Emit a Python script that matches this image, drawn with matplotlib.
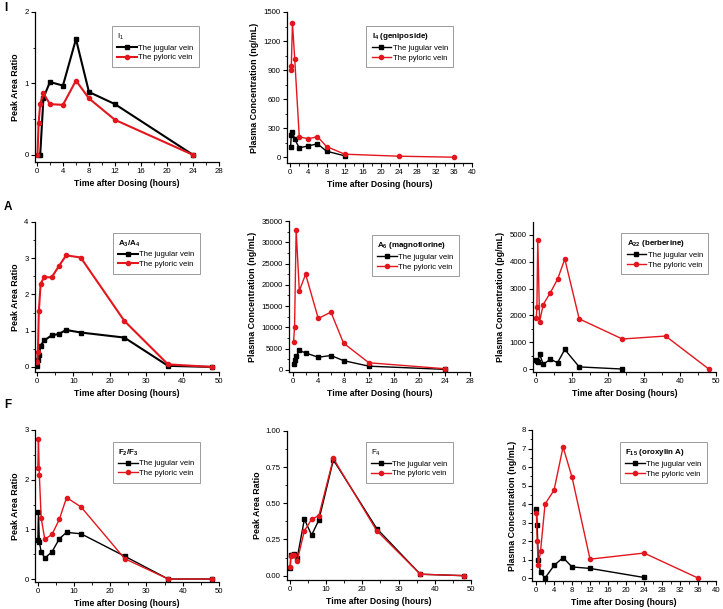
import matplotlib
matplotlib.use("Agg")
import matplotlib.pyplot as plt
from matplotlib.ticker import MultipleLocator, AutoMinorLocator, FormatStrFormatter

plt.rcParams['font.family'] = ['Liberation Sans', 'DejaVu Sans']
plt.rcParams['mathtext.fontset'] = 'custom'
plt.rcParams['mathtext.rm'] = 'Liberation Sans'
plt.rcParams['mathtext.bf'] = 'Liberation Sans:bold'

RED = '#e3161e'

# ---- data ----
i1_t_jug = [0.5, 1, 2, 4, 6, 8, 12, 24]
i1_jug = [0.0, 0.80, 1.02, 0.97, 1.62, 0.88, 0.71, 0.0]
i1_t_pyl = [0.083, 0.25, 0.5, 1, 2, 4, 6, 8, 12, 24]
i1_pyl = [0.0, 0.44, 0.71, 0.86, 0.71, 0.70, 1.04, 0.79, 0.49, 0.0]

i4_t_jug = [0.083, 0.25, 0.5, 1, 2, 4, 6, 8, 12]
i4_jug = [103, 231, 258, 186, 96, 117, 138, 62, 14]
i4_t_pyl = [0.083, 0.25, 0.5, 1, 2, 4, 6, 8, 12, 24, 36]
i4_pyl = [900, 945, 1386, 1014, 210, 190, 212, 110, 31, 10, 0]

a34_t = [0.083, 0.25, 0.5, 1, 2, 4, 6, 8, 12, 24, 36, 48]
a34_jug = [0.02, 0.18, 0.33, 0.59, 0.73, 0.87, 0.91, 1.02, 0.95, 0.81, 0.03, 0.0]
a34_pyl = [0.13, 0.40, 1.53, 2.30, 2.48, 2.47, 2.78, 3.08, 3.02, 1.27, 0.07, 0.0]

a6_t = [0.083, 0.25, 0.5, 1, 2, 4, 6, 8, 12, 24]
a6_jug = [1400, 2400, 3200, 4600, 4000, 3000, 3400, 2200, 900, 150]
a6_pyl = [6500, 10100, 33000, 18600, 22500, 12100, 13600, 6300, 1700, 300]

a22_t_jug = [0.083, 0.25, 0.5, 1, 2, 4, 6, 8, 12, 24]
a22_jug = [350, 300, 260, 560, 180, 360, 240, 730, 80, 0]
a22_t_pyl = [0.083, 0.25, 0.5, 1, 2, 4, 6, 8, 12, 24, 36, 48]
a22_pyl = [1900, 2300, 4820, 1760, 2400, 2850, 3350, 4100, 1870, 1120, 1230, 0]

f23_t = [0.083, 0.25, 0.5, 1, 2, 4, 6, 8, 12, 24, 36, 48]
f23_jug = [0.78, 1.35, 0.74, 0.55, 0.42, 0.55, 0.81, 0.94, 0.91, 0.46, 0.0, 0.0]
f23_pyl = [2.23, 2.82, 2.09, 1.23, 0.80, 0.90, 1.20, 1.64, 1.45, 0.41, 0.0, 0.0]

f4_t = [0.083, 0.25, 0.5, 1, 2, 4, 6, 8, 12, 24, 36, 48]
f4_jug = [0.05, 0.14, 0.145, 0.15, 0.12, 0.39, 0.28, 0.385, 0.80, 0.325, 0.01, 0.0]
f4_pyl = [0.06, 0.135, 0.14, 0.145, 0.10, 0.31, 0.39, 0.415, 0.81, 0.31, 0.01, 0.0]

f15_t_jug = [0.083, 0.25, 0.5, 1, 2, 4, 6, 8, 12, 24]
f15_jug = [3.72, 2.86, 0.97, 0.30, 0.0, 0.68, 1.10, 0.60, 0.52, 0.03]
f15_t_pyl = [0.083, 0.25, 0.5, 1, 2, 4, 6, 8, 12, 24, 36]
f15_pyl = [3.52, 2.0, 0.68, 1.45, 4.0, 4.75, 7.08, 5.45, 1.02, 1.35, 0.0]

W, H = 723, 609
fig = plt.figure(figsize=(W / 100, H / 100), dpi=100)


def panel(box, xlim, ylim, xstep, ystep, ylabel, title, jug, pyl, leg_anchor,
          lw=1.0, yfmt=None, title_bold=True):
    l, r, t, b = box
    ax = fig.add_axes([l / W, 1 - b / H, (r - l) / W, (b - t) / H])
    ax.plot(*jug, color='black', marker='s', ms=3, lw=lw, label='The jugular vein')
    ax.plot(*pyl, color=RED, marker='o', ms=3, lw=lw, label='The pyloric vein')
    ax.set_xlim(*xlim)
    ax.set_ylim(*ylim)
    ax.xaxis.set_major_locator(MultipleLocator(xstep))
    ax.yaxis.set_major_locator(MultipleLocator(ystep))
    ax.xaxis.set_minor_locator(AutoMinorLocator(2))
    ax.yaxis.set_minor_locator(AutoMinorLocator(2))
    if yfmt:
        ax.yaxis.set_major_formatter(FormatStrFormatter(yfmt))
    for s in ['top', 'right']:
        ax.spines[s].set_visible(False)
    for s in ['left', 'bottom']:
        ax.spines[s].set_linewidth(0.9)
    ax.tick_params(which='major', direction='out', length=3, width=0.8, labelsize=5.6, pad=1.5)
    ax.tick_params(which='minor', direction='out', length=1.8, width=0.6)
    ax.set_xlabel('Time after Dosing (hours)', fontsize=6.2, fontweight='bold', labelpad=3)
    ax.set_ylabel(ylabel, fontsize=6.4, fontweight='bold', labelpad=3)
    tprops = {'size': 5.8, 'weight': 'bold' if title_bold else 'normal'}
    leg = ax.legend(title=title, loc='upper right', bbox_to_anchor=leg_anchor,
                    fontsize=5.6, title_fontproperties=tprops, fancybox=False,
                    edgecolor='#9a9a9a', framealpha=1, borderpad=0.7,
                    handlelength=2.5, handletextpad=0.2, labelspacing=0.3,
                    alignment='left')
    leg.get_frame().set_linewidth(0.7)
    return ax


PAR = 'Peak Area Ratio'
PC_NG = 'Plasma Concentration (ng/mL)'
PC_PG = 'Plasma Concentration (pg/mL)'

panel((35, 219, 12, 162), (-0.3, 28), (-0.1, 2), 4, 1, PAR, r'I$_1$',
      (i1_t_jug, i1_jug), (i1_t_pyl, i1_pyl), (0.913, 0.933), lw=1.5,
      title_bold=False)
panel((287, 472, 12, 163), (-0.7, 40), (-60, 1500), 4, 300, PC_NG,
      r'$\mathbf{I_4}$ (geniposide)',
      (i4_t_jug, i4_jug), (i4_t_pyl, i4_pyl), (0.92, 0.934))
panel((35, 219, 222, 372), (-0.55, 50), (-0.14, 4), 10, 1, PAR,
      r'$\mathbf{A_3/A_4}$',
      (a34_t, a34_jug), (a34_t, a34_pyl), (0.918, 0.953), lw=1.5)
panel((289, 470, 221, 372), (-0.63, 28), (-470, 35000), 4, 5000, PC_NG,
      r'$\mathbf{A_6}$ (magnoflorine)',
      (a6_t, a6_jug), (a6_t, a6_pyl), (0.96, 0.934))
panel((533, 716, 222, 372), (-0.83, 50), (-110, 5480), 10, 1000, PC_PG,
      r'$\mathbf{A_{22}}$ (berberine)',
      (a22_t_jug, a22_jug), (a22_t_pyl, a22_pyl), (0.98, 0.953))
panel((35, 219, 430, 582), (-0.7, 50), (-0.06, 3), 10, 1, PAR,
      r'$\mathbf{F_2/F_3}$',
      (f23_t, f23_jug), (f23_t, f23_pyl), (0.918, 0.947))
panel((287, 471, 431, 580), (-0.8, 50), (-0.03, 1), 10, 0.25, PAR,
      r'F$_4$',
      (f4_t, f4_jug), (f4_t, f4_pyl), (0.924, 0.953), yfmt='%.2f',
      title_bold=False)
panel((532, 716, 430, 581), (-0.9, 40), (-0.16, 8), 4, 1, PC_NG,
      r'$\mathbf{F_{15}}$ (oroxylin A)',
      (f15_t_jug, f15_jug), (f15_t_pyl, f15_pyl), (0.973, 0.947))

for lab, y in [('I', 8), ('A', 207), ('F', 405)]:
    fig.text(4 / W, 1 - y / H, lab, fontsize=8.5, fontweight='bold', va='center', ha='left')

fig.savefig('out.png', dpi=100)
